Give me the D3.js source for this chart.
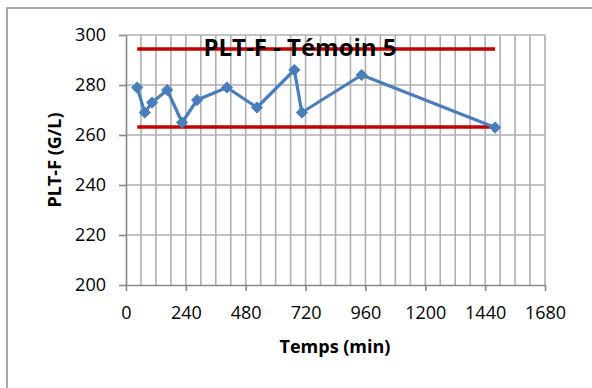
<!DOCTYPE html>
<meta charset="utf-8">
<title>PLT-F - Témoin 5</title>
<style>
body {
  margin: 0;
  background: #fff;
  font-family: "Open Sans", sans-serif;
}
.grid line {
  stroke: #b0b0b0;
  stroke-width: 1.6px;
}
.axis path, .axis line {
  stroke: #878787;
  stroke-width: 1.6px;
}
.axis text {
  font-family: "Open Sans", sans-serif;
  font-size: 18px;
  fill: #000;
}
</style>
<body>
<script src="https://cdn.jsdelivr.net/npm/d3@7"></script>
<script>

// temps (min) et PLT-F (G/L)
var times = [45, 75, 105, 165, 225, 285, 405, 525, 675, 705, 945, 1480];
var values = [279, 269, 273, 278, 265, 274, 279, 271, 286, 269, 284, 263];

// limites (lignes rouges)
var limits = [294.4, 263.2];

var xTicks = [0, 240, 480, 720, 960, 1200, 1440, 1680];
var yTicks = [200, 220, 240, 260, 280, 300];

var width = 592,
    height = 388;

var x = d3.scaleLinear()
    .domain([0, 1680])
    .range([126, 545]);

var y = d3.scaleLinear()
    .domain([200, 300])
    .range([285, 35]);

var svg = d3.select("body").append("svg")
    .attr("width", width)
    .attr("height", height);

// cadre du graphique
svg.append("rect")
    .attr("x", 7)
    .attr("y", 8)
    .attr("width", width)
    .attr("height", height)
    .attr("fill", "none")
    .attr("stroke", "#8c8c8c")
    .attr("stroke-width", 1.5);

// grille verticale (toutes les 60 min)
svg.append("g")
    .attr("class", "grid")
  .selectAll("line")
    .data(d3.range(60, 1681, 60))
  .enter().append("line")
    .attr("x1", function(d) { return x(d); })
    .attr("x2", function(d) { return x(d); })
    .attr("y1", y(300))
    .attr("y2", y(200));

// grille horizontale
svg.append("g")
    .attr("class", "grid")
  .selectAll("line")
    .data(yTicks.slice(1))
  .enter().append("line")
    .attr("x1", x(0))
    .attr("x2", x(1680))
    .attr("y1", function(d) { return y(d); })
    .attr("y2", function(d) { return y(d); });

// axes
var xAxis = svg.append("g")
    .attr("class", "axis")
    .attr("transform", "translate(0," + y(200) + ")")
    .call(d3.axisBottom(x).tickValues(xTicks).tickFormat(d3.format("d"))
        .tickSize(6).tickSizeOuter(0));
xAxis.selectAll("text").attr("dy", null).attr("y", 34);

var yAxis = svg.append("g")
    .attr("class", "axis")
    .attr("transform", "translate(" + x(0) + ",0)")
    .call(d3.axisLeft(y).tickValues(yTicks).tickFormat(d3.format("d"))
        .tickSize(7).tickSizeOuter(0).tickPadding(13));

// titres des axes
svg.append("text")
    .attr("x", 335)
    .attr("y", 353)
    .attr("text-anchor", "middle")
    .style("font-weight", "bold")
    .style("font-size", "18px")
    .text("Temps (min)");

svg.append("text")
    .attr("transform", "translate(61,160) rotate(-90)")
    .attr("text-anchor", "middle")
    .style("font-weight", "bold")
    .style("font-size", "18px")
    .text("PLT-F (G/L)");

// lignes limites
svg.append("g")
  .selectAll("line")
    .data(limits)
  .enter().append("line")
    .attr("x1", x(d3.min(times)))
    .attr("x2", x(d3.max(times)))
    .attr("y1", function(d) { return y(d); })
    .attr("y2", function(d) { return y(d); })
    .attr("stroke", "#c00000")
    .attr("stroke-width", 3.5);

// série
var data = times.map(function(t, i) { return [t, values[i]]; });

svg.append("path")
    .datum(data)
    .attr("fill", "none")
    .attr("stroke", "#4a7ebb")
    .attr("stroke-width", 3.2)
    .attr("stroke-linejoin", "round")
    .attr("d", d3.line()
        .x(function(d) { return x(d[0]); })
        .y(function(d) { return y(d[1]); }));

svg.append("g")
  .selectAll("path")
    .data(data)
  .enter().append("path")
    .attr("transform", function(d) { return "translate(" + x(d[0]) + "," + y(d[1]) + ")"; })
    .attr("d", d3.symbol().type(d3.symbolDiamond2).size(80))
    .attr("fill", "#4a7ebb")
    .attr("stroke", "#4a7ebb")
    .attr("stroke-width", 1);

// titre (par-dessus la ligne rouge)
svg.append("text")
    .attr("x", 300)
    .attr("y", 56)
    .attr("text-anchor", "middle")
    .style("font-weight", "bold")
    .style("font-size", "24px")
    .text("PLT-F - Témoin 5");

</script>
</body>
